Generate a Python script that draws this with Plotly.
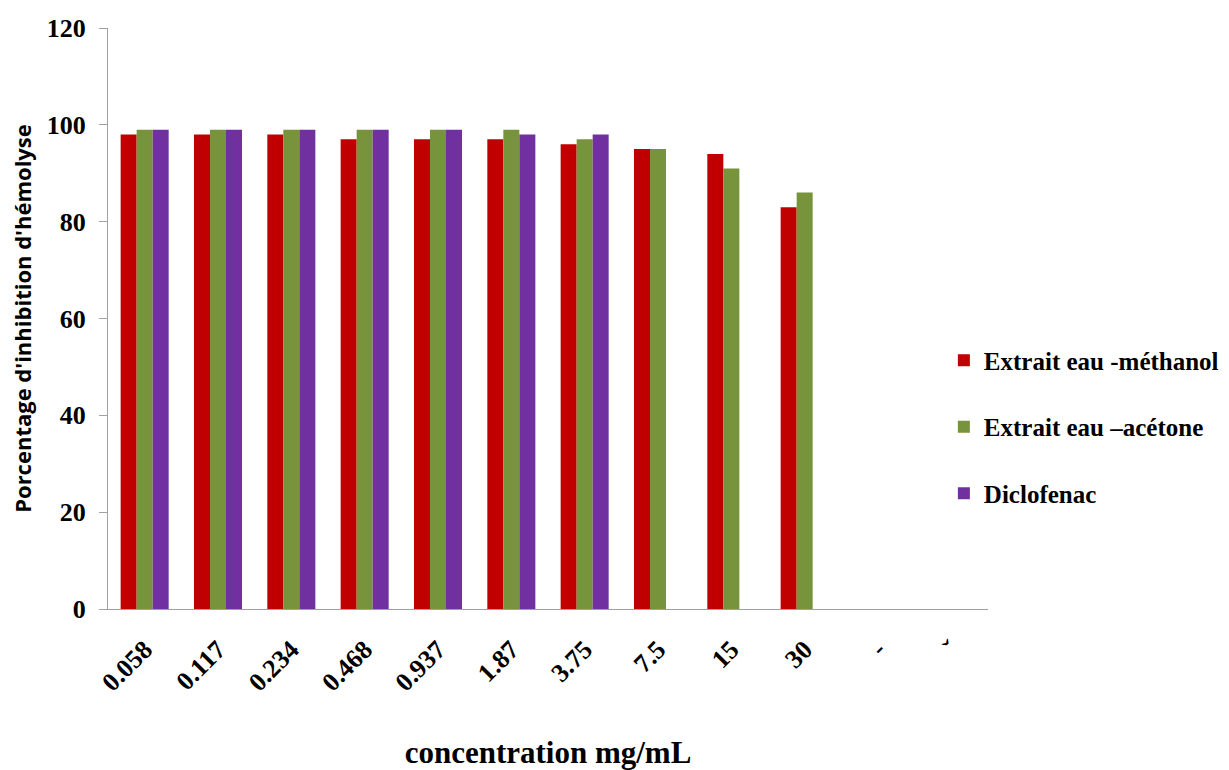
import plotly.graph_objects as go

concentrations = ["0.058", "0.117", "0.234", "0.468", "0.937", "1.87", "3.75",
                  "7.5", "15", "30", "-", "ˇ"]
methanol = [98, 98, 98, 97, 97, 97, 96, 95, 94, 83, None, None]
acetone = [99, 99, 99, 99, 99, 99, 97, 95, 91, 86, None, None]
diclofenac = [99, 99, 99, 99, 99, 98, 98, None, None, None, None, None]

series = [
    ("Extrait eau -méthanol", methanol, "#C00000"),
    ("Extrait eau –acétone", acetone, "#77933C"),
    ("Diclofenac", diclofenac, "#7030A0"),
]

serif = "Liberation Serif"

fig = go.Figure()
for i, (name, vals, color) in enumerate(series):
    fig.add_trace(go.Bar(
        x=concentrations, y=vals, name=name, legendgroup=f"g{i}",
        marker=dict(color=color, line=dict(width=0)),
    ))

fig.update_layout(
    width=1229, height=770,
    paper_bgcolor="white", plot_bgcolor="white",
    margin=dict(l=108, r=241, t=28, b=161, autoexpand=False),
    barmode="group", bargap=0.345, bargroupgap=0,
    showlegend=True,
    legend=dict(
        x=0.768, xanchor="left", xref="container",
        y=0.4455, yanchor="middle", yref="container",
        font=dict(family=serif, size=25, color="black", weight="bold"),
        tracegroupgap=31, traceorder="grouped",
        itemwidth=30, bgcolor="rgba(0,0,0,0)",
    ),
    font=dict(family=serif, color="black"),
)

fig.update_xaxes(
    type="category", showline=True, linecolor="#A0A0A0", linewidth=1,
    showgrid=False, ticks="", tickangle=-45, ticklabelstandoff=14,
    automargin=False,
    tickfont=dict(family=serif, size=26, color="black", weight="bold"),
    title=dict(text="concentration mg/mL", standoff=56,
               font=dict(family=serif, size=31, color="black", weight="bold")),
)
fig.update_yaxes(
    range=[0, 120], dtick=20, showline=True, linecolor="#A0A0A0", linewidth=1,
    showgrid=False, zeroline=False, ticks="outside", ticklen=8, tickcolor="#A0A0A0",
    ticklabelstandoff=8, automargin=False,
    tickfont=dict(family=serif, size=26, color="black", weight="bold"),
    title=dict(text="Porcentage d'inhibition d'hémolyse", standoff=9,
               font=dict(family="Open Sans", size=22, color="black", weight="bold")),
)

fig.write_html("out.html")
